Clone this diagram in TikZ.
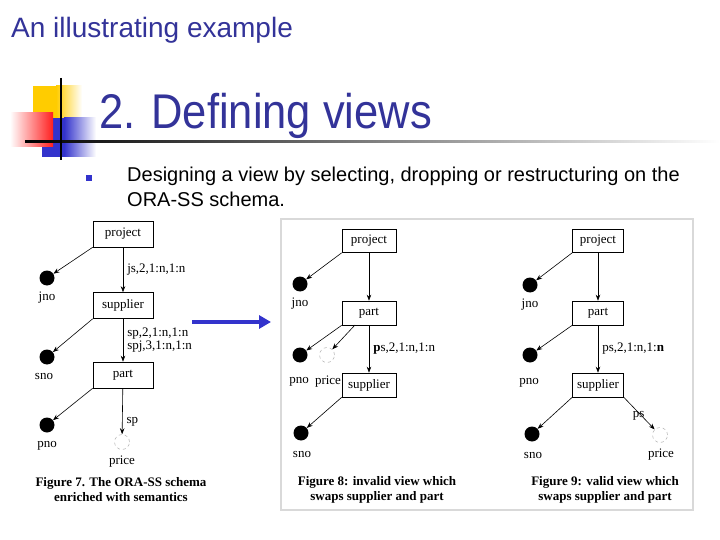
\documentclass[tikz,border=0pt]{standalone}
\usepackage{fontspec}
\setmainfont{Liberation Sans}
\newfontfamily\tms{Liberation Serif}
\usetikzlibrary{arrows.meta,positioning}
\definecolor{ttl}{HTML}{333399}
\definecolor{bul}{HTML}{3333CC}
\definecolor{decy}{HTML}{FFCC00}
\definecolor{decr}{HTML}{FF1F1F}
\definecolor{decb}{HTML}{3333CC}
\tikzset{
  ebox/.style={draw, line width=0.6pt, minimum height=26pt, inner sep=0pt, font=\tms\fontsize{13}{13}\selectfont},
  bdot/.style={circle, fill=black, minimum size=15pt, inner sep=0pt},
  ddot/.style={circle, draw=gray!60, dashed, line width=0.5pt, minimum size=15pt, inner sep=0pt},
  arr/.style={-{Stealth[length=6pt,width=4.5pt]}, line width=0.6pt},
  lbl/.style={font=\tms\fontsize{13}{13}\selectfont, inner sep=0pt},
  figcap/.style={font=\tms\bfseries\fontsize{13}{15}\selectfont, align=center, inner sep=0pt},
}
\begin{document}
\begin{tikzpicture}[x=1pt,y=-1pt]
\useasboundingbox (0,0) rectangle (720,540);
\fill[white] (0,0) rectangle (720,540);
% header
\node[anchor=base west, inner sep=0pt, text=ttl, font=\fontsize{28}{30}\selectfont] (hdr) at (11,38) {An illustrating example};
% decoration
\fill[decy] (33,86) rectangle (56,118);
\shade[left color=decy, right color=white] (56,86) rectangle (82,118);
\fill[decb] (42,118) rectangle (64,157);
\shade[left color=decb, right color=white] (64,118) rectangle (96,157);
\shade[left color=white, right color=decr] (10,113) rectangle (53,147);
\shade[left color=black, right color=white] (25,140.2) rectangle (720,142.2);
\draw[line width=2pt] (61,78) -- (61,160);
% title
\node[anchor=base west, inner sep=0pt, text=ttl] (ttl) at (99,129) {\scalebox{1}[1.12]{\fontsize{43.5}{48}\selectfont 2. Defining views}};
% bullet
\fill[bul] (86,175) rectangle (92,181);
\node[anchor=base west, inner sep=0pt, font=\fontsize{20}{24}\selectfont] (bt1) at (127,182) {Designing a view by selecting, dropping or restructuring on the};
\node[anchor=base west, inner sep=0pt, font=\fontsize{20}{24}\selectfont] (bt2) at (127,207) {ORA-SS schema.};
% big arrow
\coordinate (ba1) at (192,322);
\coordinate (ba2) at (271,322);
\draw[line width=3.5pt, color=decb, -{Triangle[length=12pt,width=13pt]}] (ba1) -- (ba2);

% ---------- Figure 7
\node[ebox, minimum width=60pt] (p7) at (123,234) {project};
\node[ebox, minimum width=60pt] (s7) at (123,305.5) {supplier};
\node[ebox, minimum width=60pt] (t7) at (123,375) {part};
\node[bdot] (jno7) at (47,278) {};
\node[bdot] (sno7) at (47,357) {};
\node[bdot] (pno7) at (47,425) {};
\node[ddot] (pr7) at (122,442) {};
\node[lbl] at (47,298) {jno};
\node[lbl] at (44,376) {sno};
\node[lbl] at (47,446) {pno};
\node[lbl] at (122,462) {price};
\draw[arr] (p7.south west) -- (jno7);
\draw[arr] (s7.south west) -- (sno7);
\draw[arr] (t7.south west) -- (pno7);
\draw[arr] (p7) -- (s7) node[midway, right=4pt, lbl] {js,2,1:n,1:n};
\draw[arr] (s7) -- (t7) node[midway, right=4pt, lbl, align=left, font=\tms\fontsize{13}{13.5}\selectfont] {sp,2,1:n,1:n\\spj,3,1:n,1:n};
\draw[arr] (t7) -- (pr7) node[pos=0.72, right=4pt, lbl] {sp};
\node[figcap] at (121,490) {Figure 7. The ORA-SS schema\\enriched with semantics};

% frame
\draw[gray!30, line width=1.2pt] (281,219) rectangle (693,510);

% ---------- Figure 8
\node[ebox, minimum width=54pt, minimum height=23pt] (p8) at (369,241) {project};
\node[ebox, minimum width=54pt, minimum height=24pt] (t8) at (369,313) {part};
\node[ebox, minimum width=54pt, minimum height=24pt] (s8) at (369,385) {supplier};
\node[bdot] (jno8) at (300,284) {};
\node[bdot] (pno8) at (300,355) {};
\node[ddot] (pr8) at (327,355) {};
\node[bdot] (sno8) at (301,433) {};
\node[lbl] at (300,304) {jno};
\node[lbl] at (299,382) {pno};
\node[lbl] at (328,382) {price};
\node[lbl] at (302,454) {sno};
\coordinate (t8b) at (355,325);
\draw[arr] (p8.south west) -- (jno8);
\draw[arr] (t8.south west) -- (pno8);
\draw[arr] (t8b) -- (pr8);
\draw[arr] (s8.south west) -- (sno8);
\draw[arr] (p8) -- (t8);
\draw[arr] (t8) -- (s8) node[midway, right=4pt, lbl] {\textbf{p}s,2,1:n,1:n};
\node[figcap] at (377,490) {Figure 8: invalid view which\\swaps supplier and part};

% ---------- Figure 9
\node[ebox, minimum width=51pt, minimum height=23pt] (p9) at (598,241) {project};
\node[ebox, minimum width=51pt, minimum height=24pt] (t9) at (598,313) {part};
\node[ebox, minimum width=51pt, minimum height=24pt] (s9) at (598,385) {supplier};
\node[bdot] (jno9) at (530,285) {};
\node[bdot] (pno9) at (530,355) {};
\node[bdot] (sno9) at (532,434) {};
\node[ddot] (pr9) at (660,435) {};
\node[lbl] at (530,305) {jno};
\node[lbl] at (529,383) {pno};
\node[lbl] at (533,455) {sno};
\node[lbl] at (661,455) {price};
\draw[arr] (p9.south west) -- (jno9);
\draw[arr] (t9.south west) -- (pno9);
\draw[arr] (s9.south west) -- (sno9);
\draw[arr] (s9.south east) -- (pr9) node[pos=0.45, anchor=base west, xshift=-5pt, yshift=-6pt, lbl] {ps};
\draw[arr] (p9) -- (t9);
\draw[arr] (t9) -- (s9) node[midway, right=4pt, lbl] {ps,2,1:n,1:\textbf{n}};
\node[figcap] at (605,490) {Figure 9: valid view which\\swaps supplier and part};
\end{tikzpicture}
\end{document}
